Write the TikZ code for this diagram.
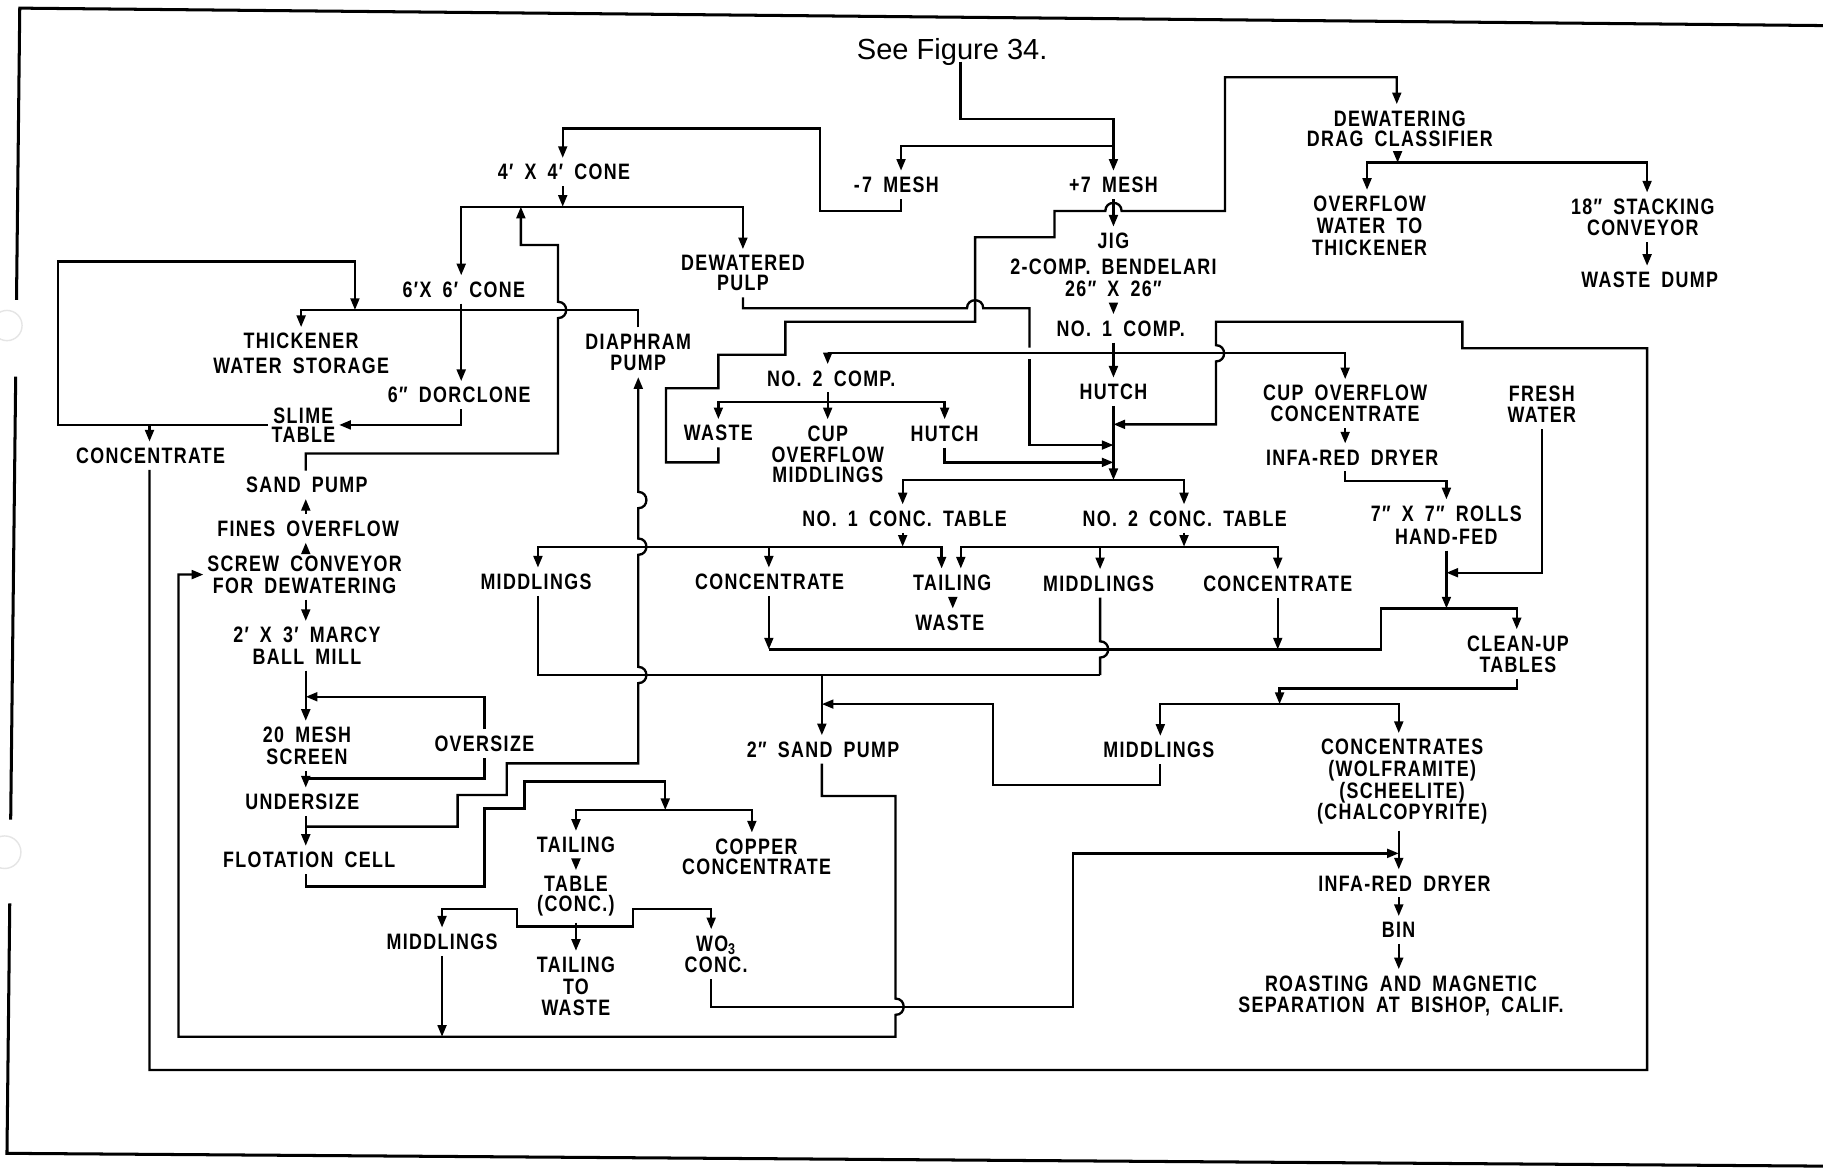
\documentclass[tikz,border=0pt]{standalone}
\usepackage{fontspec}
\setmainfont{Liberation Sans}[FakeStretch=0.8, LetterSpace=6, UprightFont=*-Bold]
\newfontfamily\titlefont{Liberation Sans}
\usetikzlibrary{arrows.meta}

\newcommand\labfont{\fontsize{9.6}{9.3}\selectfont\spaceskip 0.5em plus 0.1em\relax}

\tikzset{
  ln/.style={line width=1pt},
  arr/.style={ln, -{Triangle[length=5pt,width=3.8pt]}},
  lab/.style={font=\labfont, align=center, inner xsep=1.5pt, inner ysep=2.5pt},
  border line/.style={line width=1.3pt},
  % crossings: a vertical line bulges to the right, a horizontal one bulges up
  hopdn/.style={insert path={.. controls +(9.3,0) and +(9.3,0) .. ++(0,14)}},
  hopup/.style={insert path={.. controls +(9.3,0) and +(9.3,0) .. ++(0,-14)}},
  hoprt/.style={insert path={.. controls +(0,-9.3) and +(0,-9.3) .. ++(14,0)}},
}

\begin{document}
\begin{tikzpicture}[x=0.5pt,y=-0.5pt]
\fill[white] (0,0) rectangle (1568,1005);
\useasboundingbox (0,0) rectangle (1568,1005);

% page frame with the punched holes on the left edge
\draw[border line] (1568,22) -- (17,7) -- (14.2,258);
\draw[border line] (13.5,324) -- (9.2,705);
\draw[border line] (8.4,777) -- (6,992) -- (1568,1003);
\draw[black!10, line width=0.6pt] (6,280) circle (13);
\draw[black!10, line width=0.6pt] (4,733) circle (14);

% ---------------- labels ----------------
\node[anchor=base, inner sep=0pt] (fig) at (819,51) {\titlefont\fontsize{12.5}{14}\selectfont See Figure 34.};
\node[lab] (cone4) at (485,148) {4′ X 4′ CONE};
\node[lab] (m7) at (771,159) {-\kern1pt7 MESH};
\node[lab] (p7) at (957.7,159) {+7 MESH};
\node[lab] (cone6) at (399,249) {6′X 6′ CONE};
\node[lab] (dewp) at (639,235) {DEWATERED\\[-0.7pt]PULP};
\node[lab] (jig) at (957.7,227.6) {JIG\\[1.9pt]2-COMP. BENDELARI\\26″ X 26″};
\node[lab] (comp1) at (964,282.4) {NO. 1 COMP.};
\node[lab] (hutch1) at (957.7,337) {HUTCH};
\node[lab] (thick) at (259,304) {THICKENER\\[1.15pt]WATER STORAGE};
\node[lab] (diaph) at (549,303) {DIAPHRAM\\PUMP};
\node[lab] (comp2) at (715,325.4) {NO. 2 COMP.};
\node[lab] (dorc) at (395,340) {6″ DORCLONE};
\node[lab] (slime) at (261,366) {SLIME\\[-1.1pt]TABLE};
\node[lab] (waste2) at (617.9,372.7) {WASTE};
\node[lab] (cupmid) at (712,390.7) {CUP\\OVERFLOW\\[-0.7pt]MIDDLINGS};
\node[lab] (hutch2) at (812.5,372.8) {HUTCH};
\node[lab] (concL) at (129.6,392) {CONCENTRATE};
\node[lab] (drag) at (1204,110.4) {DEWATERING\\[-0.7pt]DRAG CLASSIFIER};
\node[lab] (ovfw) at (1178,194.5) {OVERFLOW\\[0.2pt]WATER TO\\[0.2pt]THICKENER};
\node[lab] (stack) at (1413,187) {18″ STACKING\\CONVEYOR};
\node[lab] (wdump) at (1419,240.8) {WASTE DUMP};
\node[lab] (cupcon) at (1157,347.2) {CUP OVERFLOW\\[-0.4pt]CONCENTRATE};
\node[lab] (fresh) at (1326.2,347.6) {FRESH\\WATER};
\node[lab] (ird1) at (1163,393.4) {INFA-RED DRYER};
\node[lab] (rolls) at (1244,451.6) {7″ X 7″ ROLLS\\[0.7pt]HAND-FED};
\node[lab] (sandp) at (264,417) {SAND PUMP};
\node[lab] (fines) at (265,454.5) {FINES OVERFLOW};
\node[lab] (tab1) at (778,446) {NO. 1 CONC. TABLE};
\node[lab] (tab2) at (1019,446) {NO. 2 CONC. TABLE};
\node[lab] (screw) at (262,494.2) {SCREW CONVEYOR\\FOR DEWATERING};
\node[lab] (midT1) at (461,500.4) {MIDDLINGS};
\node[lab] (conT1) at (662,500.4) {CONCENTRATE};
\node[lab] (tailT) at (819,501.2) {TAILING};
\node[lab] (midT2) at (945,501.8) {MIDDLINGS};
\node[lab] (conT2) at (1099,501.8) {CONCENTRATE};
\node[lab] (wasteT) at (817,535.6) {WASTE};
\node[lab] (mill) at (264,555.5) {2′ X 3′ MARCY\\BALL MILL};
\node[lab] (cleanup) at (1305.6,562.7) {CLEAN-UP\\TABLES};
\node[lab] (screen) at (264,641.5) {20 MESH\\SCREEN};
\node[lab] (oversz) at (416.6,639.4) {OVERSIZE};
\node[lab] (sand2) at (708,644.6) {2″ SAND PUMP};
\node[lab] (midC) at (996.7,645.1) {MIDDLINGS};
\node[lab] (concs) at (1206,672.5) {CONCENTRATES\\(WOLFRAMITE)\\(SCHEELITE)\\(CHALCOPYRITE)};
\node[lab] (undersz) at (260,689.6) {UNDERSIZE};
\node[lab] (tail1) at (495.4,726.8) {TAILING};
\node[lab] (copper) at (650.7,736.8) {COPPER\\[-0.7pt]CONCENTRATE};
\node[lab] (flot) at (266,739.7) {FLOTATION CELL};
\node[lab] (ird2) at (1208,759.8) {INFA-RED DRYER};
\node[lab] (table) at (495.4,771) {TABLE\\[-0.7pt](CONC.)};
\node[lab] (bin) at (1203,799.9) {BIN};
\node[lab] (midL) at (380.2,810) {MIDDLINGS};
\node[lab] (wo3) at (616,820.7) {WO\textsubscript{3}\\CONC.};
\node[lab] (tailw) at (495.4,848.6) {TAILING\\TO\\WASTE};
\node[lab] (roast) at (1205,856.5) {ROASTING AND MAGNETIC\\SEPARATION AT BISHOP, CALIF.};

% ---------------- columns and junctions ----------------
\coordinate (colA) at (263,0);
\coordinate (colJ) at (957.7,0);
\coordinate (tw) at (819.5,0);

% feed from the screen of Figure 34
\coordinate (fgo) at (826,53);
\coordinate (jf) at (957.7,125.3);
\coordinate (jm7) at (775,125.3);
\draw[ln] (fgo) -- (826,102.4) -- (957.7,102.4) -- (jf);
\draw[arr] (jf) -- (p7.north);
\draw[arr] (jf) -- (jm7) -- (m7.north -| jm7);

% -7 mesh to the 4 x 4 cone
\coordinate (c4in) at (484,110.4);
\draw[arr] (m7.south -| jm7) -- (775,181.5) -- (705.4,181.5) -- (705.4,110.4) -- (c4in) -- (cone4.north -| c4in);

% 4 x 4 cone split
\coordinate (jc4) at (484,177.8);
\coordinate (c6in) at (396.7,177.8);
\coordinate (dpin) at (639,177.8);
\draw[arr] (cone4.south -| jc4) -- (jc4);
\draw[arr] (jc4) -- (c6in) -- (cone6.north -| c6in);
\draw[arr] (jc4) -- (dpin) -- (dewp.north -| dpin);

% 6 x 6 cone, dorclone, slime table
\coordinate (dso) at (396.7,365.5);
\draw[arr] (cone6.south -| c6in) -- (dorc.north -| c6in);
\draw[arr] (dorc.south -| c6in) -- (dso) -- (slime.east |- dso);
\coordinate (jth) at (305.3,266.6);
\coordinate (jcL) at (128.6,365.5);
\draw[arr] (slime.west |- dso) -- (49.9,365.5) -- (49.9,225) -- (305.3,225) -- (jth);
\draw[arr] (jcL) -- (concL.north -| jcL);

% diaphragm pump to thickener
\draw[arr] (diaph.north) -- (549,266.6) -- (259,266.6) -- (thick.north);

% sand pump back to the 6 x 6 cone
\coordinate (jsp6) at (448,177.8);
\draw[arr] (sandp.north -| colA) -- (263,390) -- (480,390) -- (480,273.6) [hopup] -- (480,210.7) -- (448,210.7) -- (jsp6);

% grinding column
\draw[arr] (fines.north -| colA) -- (sandp.south -| colA);
\draw[arr] (screw.north -| colA) -- (fines.south -| colA);
\draw[arr] (screw.south -| colA) -- (mill.north -| colA);
\draw[arr] (mill.south -| colA) -- (screen.north -| colA);
\coordinate (jov) at (263,599.3);
\coordinate (jsc) at (263,669.5);
\draw[ln] (jsc) -| (oversz.south);
\draw[arr] (oversz.north) |- (jov);
\draw[arr] (screen.south -| colA) -- (undersz.north -| colA);
\coordinate (jun) at (263,711);
\draw[arr] (undersz.south -| colA) -- (flot.north -| colA);

% undersize to the diaphragm pump
\draw[arr] (jun) -- (393.6,711) -- (393.6,683.8) -- (435.8,683.8) -- (435.8,656.6) -- (549,656.6)
  -- (549,587.6) [hopup] -- (549,477.2) [hopup] -- (549,437.1) [hopup] -- (diaph.south);

% flotation cell products
\coordinate (jfl) at (572.2,696.7);
\coordinate (jcu) at (646.7,696.7);
\draw[arr] (flot.south -| colA) -- (263,762.6) -- (416.6,762.6) -- (416.6,695.3) -- (451.2,695.3) -- (451.2,672.3) -- (572.2,672.3) -- (jfl);
\draw[arr] (jfl) -| (tail1.north);
\draw[arr] (jfl) -- (jcu) -- (copper.north -| jcu);

% tailing table
\coordinate (jtb) at (495.4,797);
\coordinate (wx) at (611.7,782.1);
\draw[arr] (tail1.south) -- (table.north);
\draw[arr] (table.south) -- (tailw.north);
\draw[arr] (jtb) -- (444.7,797) -- (444.7,782.1) -| (midL.north);
\draw[arr] (jtb) -- (544.5,797) -- (544.5,782.1) -- (wx) -- (wo3.north -| wx);
\coordinate (jbm) at (380.2,891.7);
\draw[arr] (midL.south) -- (jbm);

% 2" sand pump return to the screw conveyor
\coordinate (jsp) at (706.9,580.6);
\draw[arr] (sand2.south -| jsp) -- (706.9,684.7) -- (770.3,684.7) -- (770.3,858.9) [hopdn] -- (770.3,891.7) -- (153.6,891.7) |- (screw.west);

% WO3 concentrate to the final dryer
\coordinate (jir) at (1203.1,734);
\draw[arr] (wo3.south -| wx) -- (611.7,865.9) -- (923.1,865.9) -- (923.1,734) -- (jir);

% slime table concentrate back to the jig hutch line
\coordinate (jhr) at (957.7,365);
\draw[arr] (concL.south -| jcL) -- (128.6,920.3) -- (1416.7,920.3) -- (1416.7,299.6) -- (1257.8,299.6) -- (1257.8,276.7)
  -- (1045.9,276.7) -- (1045.9,296.9) [hopdn] -- (1045.9,365) -- (jhr);

% jig
\draw[arr] (p7.south) -- (jig.north);
\draw[arr] (jig.south) -- (comp1.north -| colJ);
\draw[arr] (comp1.south -| colJ) -- (hutch1.north);
\coordinate (jc1) at (957.7,303.9);
\coordinate (c2in) at (711.9,303.9);
\coordinate (ccin) at (1157,303.9);
\draw[arr] (jc1) -- (c2in) -- (comp2.north -| c2in);
\draw[arr] (jc1) -- (ccin) -- (cupcon.north -| ccin);

\coordinate (jc2) at (711.9,345.5);
\draw[ln] (comp2.south -| jc2) -- (jc2);
\draw[arr] (jc2) -- (cupmid.north -| jc2);
\draw[arr] (jc2) -| (waste2.north);
\draw[arr] (jc2) -| (hutch2.north);

\coordinate (jh2) at (957.7,397.7);
\draw[arr] (hutch2.south) |- (jh2);

\coordinate (jdp) at (957.7,382.8);
\draw[ln] (dewp.south -| dpin) -- (639,265.2) -- (831.7,265.2) [hoprt] -- (885.5,265.2) -- (885.5,298.9);
\draw[arr] (885.5,308.9) -- (885.5,382.8) -- (jdp);

% jig waste to the drag classifier
\coordinate (drin) at (1201.4,66.5);
\draw[arr] (waste2.south) -- (617.9,397.7) -- (572.9,397.7) -- (572.9,334) -- (617.9,334) -- (617.9,305.2) -- (675.5,305.2)
  -- (675.5,276.7) -- (838.7,276.7) -- (838.7,204.1) -- (907,204.1) -- (907,181.5) -- (950.7,181.5) [hoprt]
  -- (1053.7,181.5) -- (1053.7,66.5) -- (drin) -- (drag.north -| drin);

\coordinate (jdr) at (1202.1,139.9);
\coordinate (ovin) at (1175.8,139.9);
\coordinate (stin) at (1416.7,139.9);
\draw[arr] (drag.south -| jdr) -- (jdr);
\draw[arr] (jdr) -- (ovin) -- (ovfw.north -| ovin);
\draw[arr] (jdr) -- (stin) -- (stack.north -| stin);
\draw[arr] (stack.south -| stin) -- (wdump.north -| stin);

% cup overflow concentrate to the rolls
\coordinate (jr) at (1244.1,413.5);
\coordinate (jcl) at (1244.1,523.3);
\coordinate (jfw) at (1244.1,492.6);
\draw[arr] (cupcon.south -| ccin) -- (ird1.north -| ccin);
\draw[arr] (ird1.south -| ccin) -- (1157,413.5) -- (jr) -- (rolls.north -| jr);
\draw[arr] (rolls.south -| jr) -- (jcl);
\draw[arr] (fresh.south) |- (jfw);

% concentrating tables
\coordinate (jh) at (957.7,412.9);
\coordinate (t1in) at (776.4,412.9);
\coordinate (t2in) at (1018.4,412.9);
\draw[arr] (hutch1.south) -- (jh);
\draw[arr] (jh) -- (t1in) -- (tab1.north -| t1in);
\draw[arr] (jh) -- (t2in) -- (tab2.north -| t2in);
\coordinate (js1) at (776.4,470.2);
\coordinate (js2) at (1018.4,470.2);
\draw[arr] (tab1.south -| js1) -- (js1);
\draw[arr] (tab2.south -| js2) -- (js2);
\coordinate (m1in) at (462.7,470.2);
\coordinate (c1Tin) at (661.3,470.2);
\coordinate (tLin) at (809.9,470.2);
\coordinate (tRin) at (826.4,470.2);
\coordinate (m2in) at (946.2,470.2);
\coordinate (c2Tin) at (1099,470.2);
\draw[arr] (js1) -- (m1in) -- (midT1.north -| m1in);
\draw[arr] (c1Tin) -- (conT1.north -| c1Tin);
\draw[arr] (js1) -- (tLin) -- (tailT.north -| tLin);
\draw[arr] (js2) -- (tRin) -- (tailT.north -| tRin);
\draw[arr] (m2in) -- (midT2.north -| m2in);
\draw[arr] (js2) -- (c2Tin) -- (conT2.north -| c2Tin);
\draw[arr] (tailT.south -| tw) -- (wasteT.north -| tw);

% table concentrates to the clean-up tables
\coordinate (jt1) at (661.3,558.6);
\coordinate (cuin) at (1304.6,523.3);
\draw[arr] (jt1) -- (1187.7,558.6) -- (1187.7,523.3) -- (cuin) -- (cleanup.north -| cuin);
\draw[arr] (conT1.south -| jt1) -- (jt1);
\draw[arr] (conT2.south -| c2Tin) -- (c2Tin |- jt1);

% table middlings to the 2" sand pump
\draw[ln] (midT1.south -| m1in) -- (462.7,580.6) -- (946.2,580.6);
\draw[ln] (midT2.south -| m2in) -- (946.2,551.6) [hopdn] -- (946.2,580.6);
\draw[arr] (jsp) -- (sand2.north -| jsp);

% clean-up tables
\coordinate (jcu2) at (1100.6,605.6);
\coordinate (mcin) at (998,605.6);
\coordinate (csin) at (1203.1,605.6);
\coordinate (js2p) at (706.9,605.6);
\draw[arr] (cleanup.south -| cuin) -- (1304.6,592.1) -- (1100.6,592.1) -- (jcu2);
\draw[arr] (jcu2) -- (mcin) -- (midC.north -| mcin);
\draw[arr] (jcu2) -- (csin) -- (concs.north -| csin);
\draw[arr] (midC.south -| mcin) -- (998,675.2) -- (854,675.2) -- (854,605.6) -- (js2p);

% final concentrate handling
\draw[arr] (concs.south -| csin) -- (ird2.north -| csin);
\draw[arr] (ird2.south -| csin) -- (bin.north -| csin);
\draw[arr] (bin.south -| csin) -- (roast.north -| csin);
\end{tikzpicture}
\end{document}
